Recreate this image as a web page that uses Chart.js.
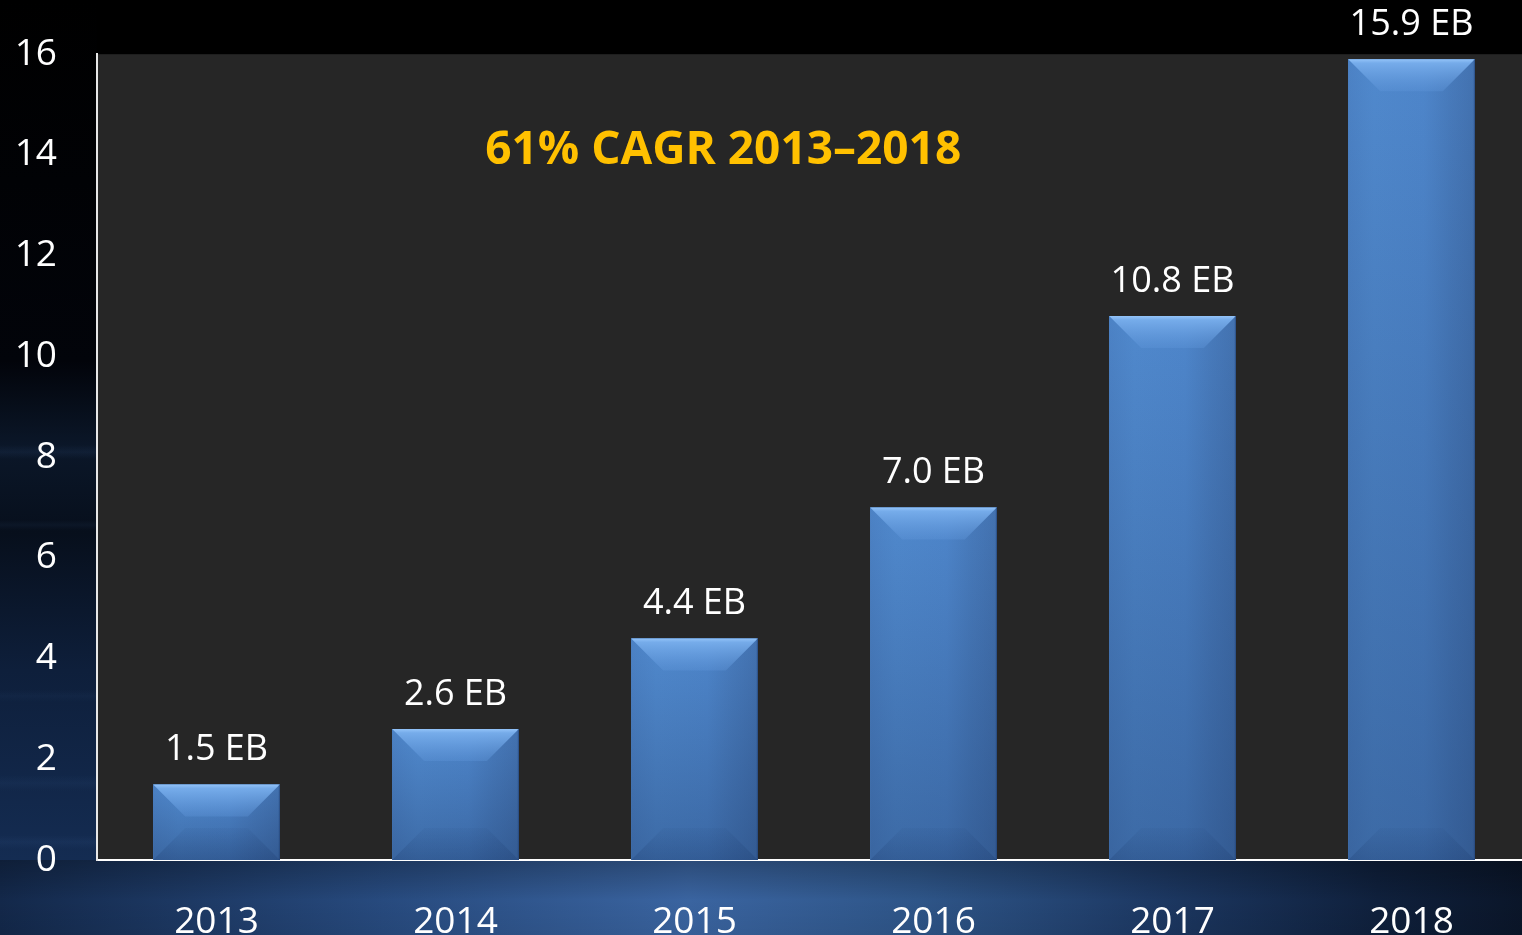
<!DOCTYPE html>
<html>
<head>
<meta charset="utf-8">
<title>Traffic growth</title>
<script src="https://cdn.jsdelivr.net/npm/chart.js@4.4.1/dist/chart.umd.min.js"></script>
<style>
  html, body { margin: 0; padding: 0; background: #000; overflow: hidden; }
  #wrap { width: 1531px; height: 960px; }
</style>
</head>
<body>
<div id="wrap"><canvas id="trafficChart" width="1531" height="960"></canvas></div>
<script>
var years = ["2013", "2014", "2015", "2016", "2017", "2018"];
var exabytes = [1.5, 2.6, 4.4, 7.0, 10.8, 15.9];
var yTicks = [0, 2, 4, 6, 8, 10, 12, 14, 16];
var headline = "61% CAGR 2013\u20132018";

var FONT = "'Open Sans', 'DejaVu Sans', sans-serif";

// backdrop: black top, navy haze on the left strip and under the axis
var backdrop = {
  id: 'backdrop',
  beforeDraw: function(chart) {
    var c = chart.ctx, w = chart.width, h = chart.height, a = chart.chartArea;
    c.save();
    c.fillStyle = '#000';
    c.fillRect(0, 0, w, h);

    var g = c.createLinearGradient(0, 0, 0, a.bottom);
    g.addColorStop(0, '#000');
    g.addColorStop(0.42, '#02040a');
    g.addColorStop(0.52, '#0b1729');
    g.addColorStop(0.62, '#070f1c');
    g.addColorStop(0.78, '#0e1f3b');
    g.addColorStop(1, '#142c52');
    c.fillStyle = g;
    c.fillRect(0, 0, a.left, a.bottom);

    // soft horizontal streaks
    var streaks = [[445, 14, 0.10], [520, 10, 0.07], [690, 12, 0.06], [775, 16, 0.08], [835, 14, 0.09]];
    streaks.forEach(function(s) {
      var sg = c.createLinearGradient(0, s[0], 0, s[0] + s[1]);
      sg.addColorStop(0, 'rgba(70,110,170,0)');
      sg.addColorStop(0.5, 'rgba(70,110,170,' + s[2] + ')');
      sg.addColorStop(1, 'rgba(70,110,170,0)');
      c.fillStyle = sg;
      c.fillRect(0, s[0], a.left, s[1]);
    });

    var gb = c.createLinearGradient(0, 0, w, 0);
    gb.addColorStop(0, '#13284a');
    gb.addColorStop(0.25, '#274a7e');
    gb.addColorStop(0.45, '#3a64a0');
    gb.addColorStop(0.6, '#2e5588');
    gb.addColorStop(0.75, '#1d3964');
    gb.addColorStop(0.9, '#0f203c');
    gb.addColorStop(1, '#0a1528');
    c.fillStyle = gb;
    c.fillRect(0, a.bottom, w, h - a.bottom);
    var gv = c.createLinearGradient(0, a.bottom, 0, h);
    gv.addColorStop(0, 'rgba(0,0,0,0.25)');
    gv.addColorStop(0.4, 'rgba(0,0,0,0)');
    gv.addColorStop(1, 'rgba(0,0,0,0.1)');
    c.fillStyle = gv;
    c.fillRect(0, a.bottom, w, h - a.bottom);

    c.fillStyle = '#262626';
    c.fillRect(a.left, a.top, a.right - a.left, a.bottom - a.top);
    c.restore();
  }
};

// bevelled face for every bar, plus the value label above it
var bevelBars = {
  id: 'bevelBars',
  afterDatasetsDraw: function(chart) {
    var c = chart.ctx;
    var meta = chart.getDatasetMeta(0);
    c.save();
    meta.data.forEach(function(bar, i) {
      var x0 = bar.x - bar.width / 2, x1 = bar.x + bar.width / 2;
      var y0 = bar.y, y1 = bar.base;
      var bw = x1 - x0;
      var b = Math.min(32, (y1 - y0) / 2, bw / 2);

      // face: soft lighter band on the left, darker band on the right
      var face = c.createLinearGradient(x0, 0, x1, 0);
      face.addColorStop(0, '#4c82c5');
      face.addColorStop(0.2, '#5089cd');
      face.addColorStop(0.6, '#4e86cb');
      face.addColorStop(0.8, '#487bbc');
      face.addColorStop(1, '#4372b0');
      c.fillStyle = face;
      c.fillRect(x0, y0, bw, y1 - y0);

      // darken towards the foot of the bar
      var shade = c.createLinearGradient(0, y0, 0, y1);
      shade.addColorStop(0, 'rgba(15,35,75,0)');
      shade.addColorStop(1, 'rgba(15,35,75,0.3)');
      c.fillStyle = shade;
      c.fillRect(x0, y0, bw, y1 - y0);

      // top bevel
      var gt = c.createLinearGradient(0, y0, 0, y0 + b);
      gt.addColorStop(0, '#93c3f8');
      gt.addColorStop(0.12, 'rgba(120,174,236,0.95)');
      gt.addColorStop(1, 'rgba(95,150,218,0.35)');
      c.fillStyle = gt;
      c.beginPath();
      c.moveTo(x0, y0); c.lineTo(x1, y0); c.lineTo(x1 - b, y0 + b); c.lineTo(x0 + b, y0 + b);
      c.closePath(); c.fill();

      // bottom bevel
      var gbt = c.createLinearGradient(0, y1 - b, 0, y1);
      gbt.addColorStop(0, 'rgba(25,55,105,0.05)');
      gbt.addColorStop(1, 'rgba(25,55,105,0.25)');
      c.fillStyle = gbt;
      c.beginPath();
      c.moveTo(x0, y1); c.lineTo(x0 + b, y1 - b); c.lineTo(x1 - b, y1 - b); c.lineTo(x1, y1);
      c.closePath(); c.fill();

      c.strokeStyle = 'rgba(30,60,110,0.6)';
      c.lineWidth = 1;
      c.beginPath();
      c.moveTo(x1 - 0.5, y0); c.lineTo(x1 - 0.5, y1);
      c.stroke();

      c.fillStyle = '#ffffff';
      c.font = '36px ' + FONT;
      c.textAlign = 'center';
      c.textBaseline = 'alphabetic';
      c.fillText(exabytes[i].toFixed(1) + ' EB', bar.x, y0 - 24);
    });

    // growth headline, placed in data units
    var xs = chart.scales.x, ys = chart.scales.y;
    c.fillStyle = '#ffc000';
    c.font = 'bold 46px ' + FONT;
    c.textAlign = 'center';
    c.textBaseline = 'middle';
    c.fillText(headline, xs.getPixelForValue(2.12), ys.getPixelForValue(14.08));
    c.restore();
  }
};

var ctx = document.getElementById("trafficChart").getContext("2d");
new Chart(ctx, {
  type: 'bar',
  data: {
    labels: years,
    datasets: [{
      data: exabytes,
      backgroundColor: '#4f87cc',
      borderWidth: 0,
      barPercentage: 0.53,
      categoryPercentage: 1.0
    }]
  },
  options: {
    responsive: false,
    animation: false,
    devicePixelRatio: 1,
    layout: { padding: { top: 45, right: 0, bottom: 0, left: 0 } },
    plugins: {
      legend: { display: false },
      tooltip: { enabled: false }
    },
    scales: {
      x: {
        grid: { display: false },
        border: { display: true, color: '#ffffff', width: 2 },
        ticks: { color: '#ffffff', font: { family: FONT, size: 37 }, padding: 32 },
        afterFit: function(scale) { scale.height = 100; }
      },
      y: {
        min: 0,
        max: 16,
        afterBuildTicks: function(scale) {
          scale.ticks = yTicks.map(function(v) { return { value: v }; });
        },
        grid: { display: false },
        border: { display: true, color: '#e8e8e8', width: 2 },
        ticks: { color: '#ffffff', font: { family: FONT, size: 37 }, padding: 32 },
        afterFit: function(scale) { scale.width = 97; }
      }
    }
  },
  plugins: [backdrop, bevelBars]
});
</script>
</body>
</html>
